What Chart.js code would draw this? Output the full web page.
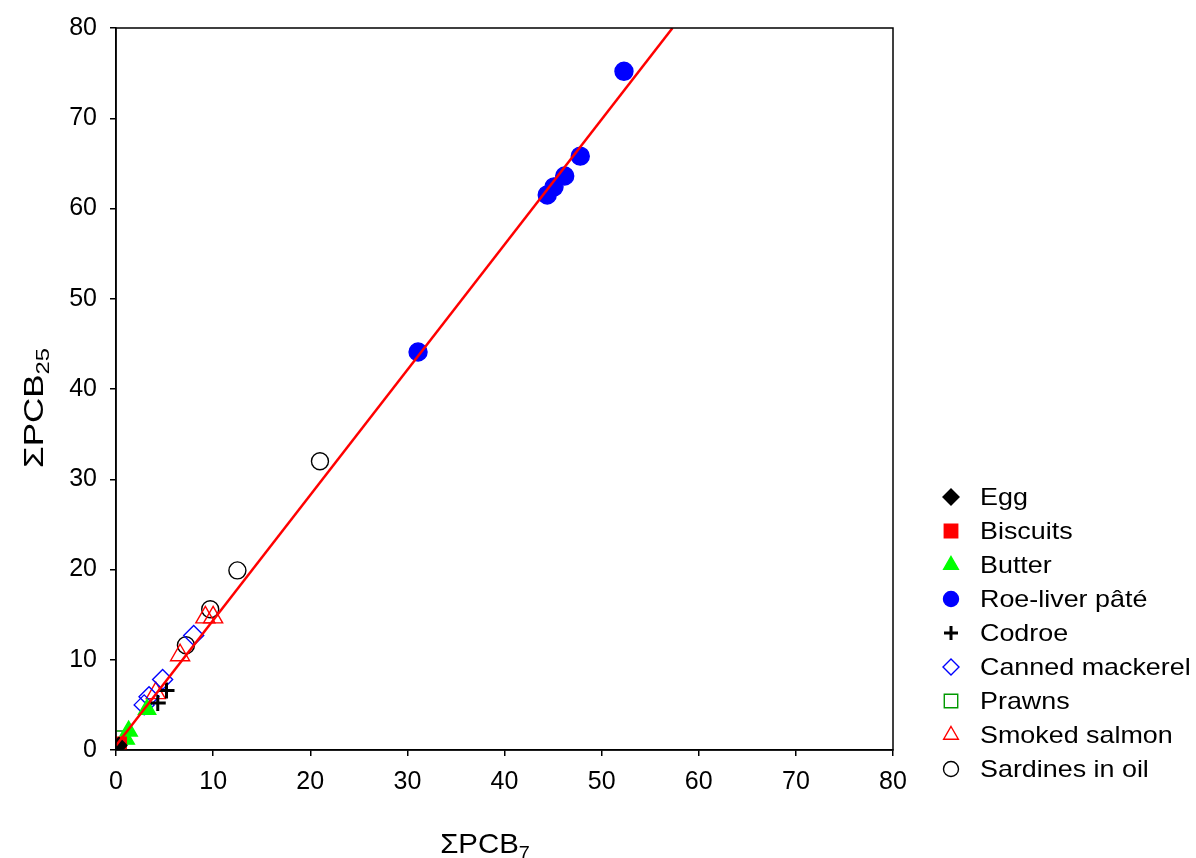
<!DOCTYPE html>
<html>
<head>
<meta charset="utf-8">
<script src="https://cdn.jsdelivr.net/npm/chart.js@4.4.1/dist/chart.umd.min.js"></script>
<style>
  html, body { margin: 0; padding: 0; background: #fff; }
  #wrap { width: 1196px; height: 858px; }
</style>
</head>
<body>
<div id="wrap"><canvas id="chart" width="1196" height="858"></canvas></div>
<script>
// data: [ΣPCB7, ΣPCB25]
const egg = [[0.3, 0.5]];
const biscuits = [[0.4, 0.7]];
const butter = [[1.0, 1.2], [1.3, 2.1], [3.2, 4.5]];
const roeLiver = [[31.1, 44.1], [44.4, 61.5], [45.1, 62.4], [46.2, 63.6], [47.8, 65.8], [52.3, 75.2]];
const codroe = [[4.3, 5.2], [5.2, 6.6]];
const mackerel = [[2.9, 5.0], [3.4, 5.9], [4.8, 7.8], [8.0, 12.7]];
const prawns = [[0.5, 1.4]];
const salmon = [[4.1, 6.3], [6.6, 10.5], [9.2, 14.7], [10.0, 14.7]];
const sardines = [[7.2, 11.6], [9.7, 15.6], [12.5, 19.9], [21.0, 32.0]];
const fitLine = [[0, 0.5], [57.3, 80]];

const xTicks = [0, 10, 20, 30, 40, 50, 60, 70, 80];
const yTicks = [0, 10, 20, 30, 40, 50, 60, 70, 80];

const pts = arr => arr.map(p => ({ x: p[0], y: p[1] }));
const FONT = '"Liberation Sans", Arial, sans-serif';

const series = [
  { label: 'Egg', data: egg, style: 'rectRot', fill: '#000000', stroke: '#000000', r: 8 },
  { label: 'Biscuits', data: biscuits, style: 'rect', fill: '#ff0000', stroke: '#ff0000', r: 9 },
  { label: 'Butter', data: butter, style: 'triangle', fill: '#00ff00', stroke: '#00ff00', r: 10 },
  { label: 'Roe-liver pâté', data: roeLiver, style: 'circle', fill: '#0000ff', stroke: '#0000ff', r: 9 },
  { label: 'Codroe', data: codroe, style: 'cross', fill: '#000000', stroke: '#000000', r: 8, bw: 3 },
  { label: 'Canned mackerel', data: mackerel, style: 'rectRot', fill: 'rgba(0,0,0,0)', stroke: '#0000ff', r: 10 },
  { label: 'Prawns', data: prawns, style: 'rect', fill: 'rgba(0,0,0,0)', stroke: '#009900', r: 9 },
  { label: 'Smoked salmon', data: salmon, style: 'triangle', fill: 'rgba(0,0,0,0)', stroke: '#ff0000', r: 11 },
  { label: 'Sardines in oil', data: sardines, style: 'circle', fill: 'rgba(0,0,0,0)', stroke: '#000000', r: 8.5 }
];

const datasets = [{
  type: 'line',
  label: 'fit',
  data: pts(fitLine),
  borderColor: '#ff0000',
  borderWidth: 2.5,
  pointRadius: 0,
  fill: false,
  order: -1
}];
series.forEach(s => {
  datasets.push({
    type: 'scatter',
    label: s.label,
    data: pts(s.data),
    pointStyle: s.style,
    pointRadius: s.r,
    pointHoverRadius: s.r,
    backgroundColor: s.fill,
    borderColor: s.stroke,
    pointBorderWidth: s.bw || 1.4,
    borderWidth: s.bw || 1.4
  });
});

// draws "ΣPCB" plus a subscript, stretched along the text direction
function subTitle(ctx, sub, stretch) {
  const main = 'ΣPCB';
  ctx.font = '28px ' + FONT;
  const w1 = ctx.measureText(main).width;
  ctx.font = '19px ' + FONT;
  const w2 = ctx.measureText(sub).width;
  ctx.scale(stretch, 1);
  const x0 = -(w1 + w2) / 2;
  ctx.font = '28px ' + FONT;
  ctx.fillText(main, x0, 0);
  ctx.font = '19px ' + FONT;
  ctx.fillText(sub, x0 + w1, 6);
}

// frame, axis titles with subscripts, legend
const extras = {
  id: 'extras',
  afterDraw(chart) {
    const ctx = chart.ctx;
    const a = chart.chartArea;
    ctx.save();
    ctx.strokeStyle = '#000';
    ctx.lineWidth = 1.5;
    ctx.strokeRect(a.left, a.top, a.right - a.left, a.bottom - a.top);

    ctx.fillStyle = '#000';
    ctx.textBaseline = 'alphabetic';
    ctx.textAlign = 'left';

    ctx.save();
    ctx.translate(485, 853);
    subTitle(ctx, '7', 1.05);
    ctx.restore();

    ctx.save();
    ctx.translate(43, 408);
    ctx.rotate(-Math.PI / 2);
    subTitle(ctx, '25', 1.25);
    ctx.restore();

    // legend
    ctx.textBaseline = 'middle';
    series.forEach((s, i) => {
      const y = 497 + i * 34;
      ctx.fillStyle = s.fill;
      ctx.strokeStyle = s.stroke;
      ctx.lineWidth = s.bw || 1.4;
      const r = { triangle: 8.5, rectRot: 8, rect: 9.5, circle: 7.5, cross: 7 }[s.style];
      Chart.helpers.drawPoint(ctx, { pointStyle: s.style, radius: r, rotation: 0, borderWidth: s.bw || 1.4 }, 951, y);
      ctx.fillStyle = '#000';
      ctx.save();
      ctx.translate(980, y + 1);
      ctx.scale(1.12, 1);
      ctx.font = '24px ' + FONT;
      ctx.fillText(s.label, 0, 0);
      ctx.restore();
    });
    ctx.restore();
  }
};

new Chart(document.getElementById('chart'), {
  data: { datasets },
  plugins: [extras],
  options: {
    responsive: false,
    animation: false,
    events: [],
    layout: { padding: { left: 0, top: 27, right: 303, bottom: 0 } },
    plugins: { legend: { display: false }, tooltip: { enabled: false } },
    scales: {
      x: {
        type: 'linear',
        min: 0, max: 80,
        afterBuildTicks: sc => { sc.ticks = xTicks.map(v => ({ value: v })); },
        afterFit: sc => { sc.height = 108; },
        grid: { drawOnChartArea: false, drawTicks: true, tickLength: 6, color: '#000', lineWidth: 1.5 },
        border: { display: true, color: '#000', width: 1.5 },
        ticks: { color: '#000', font: { size: 25, family: FONT }, padding: 11, maxRotation: 0 }
      },
      y: {
        type: 'linear',
        min: 0, max: 80,
        afterBuildTicks: sc => { sc.ticks = yTicks.map(v => ({ value: v })); },
        afterFit: sc => { sc.width = 116; },
        grid: { drawOnChartArea: false, drawTicks: true, tickLength: 6, color: '#000', lineWidth: 1.5 },
        border: { display: true, color: '#000', width: 1.5 },
        ticks: { color: '#000', font: { size: 25, family: FONT }, padding: 13 }
      }
    }
  }
});
</script>
</body>
</html>
